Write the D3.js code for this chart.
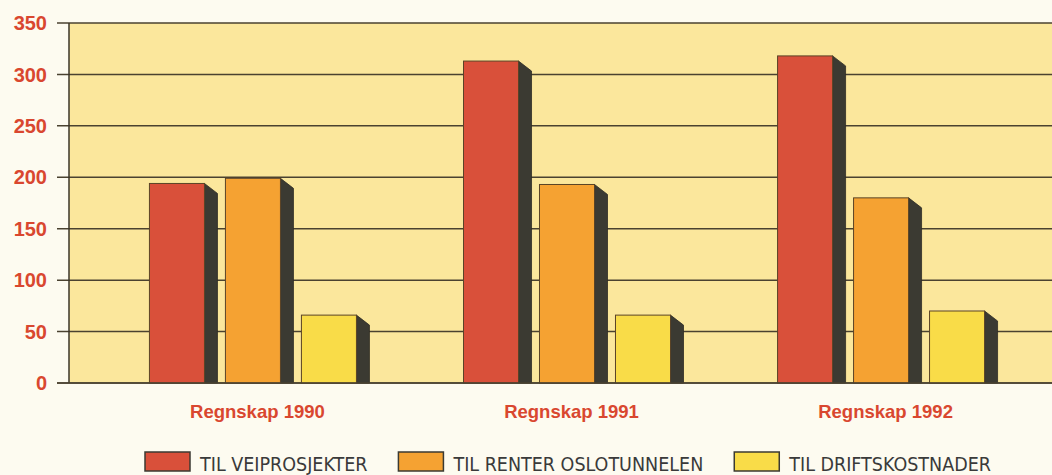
<!DOCTYPE html>
<html>
<head>
  <meta charset='utf-8'>
  <title>Regnskap 1990-1992</title>
  <style>
    html, body { margin: 0; padding: 0; background: #fdfbf0; }
    svg { display: block; }
  </style>
</head>
<body>
<svg id="chart"></svg>
<script src="https://cdn.jsdelivr.net/npm/d3@7"></script>
<script>
  // data
  var categories = ['Regnskap 1990', 'Regnskap 1991', 'Regnskap 1992'];
  var seriesNames = ['TIL VEIPROSJEKTER', 'TIL RENTER OSLOTUNNELEN', 'TIL DRIFTSKOSTNADER'];
  var veiprosjekter = [194, 313, 318];
  var renter = [199, 193, 180];
  var drift = [66, 66, 70];
  var yTicks = [0, 50, 100, 150, 200, 250, 300, 350];

  var seriesValues = [veiprosjekter, renter, drift];
  var colors = ['#d9503a', '#f5a232', '#f9dc48'];

  var width = 1052, height = 475;
  var margin = {top: 23, left: 69, bottom: 92};

  var svg = d3.select('#chart')
    .attr('width', width)
    .attr('height', height);

  // plot runs on past the right edge of the picture
  var x = d3.scaleBand()
    .domain(categories)
    .range([margin.left, 1074])
    .paddingOuter(0.1)
    .paddingInner(0);

  var x1 = d3.scaleBand()
    .domain(d3.range(seriesNames.length))
    .range([0, 207])
    .paddingInner(0.276);

  var y = d3.scaleLinear()
    .domain([0, 350])
    .range([height - margin.bottom, margin.top]);

  // plot background
  svg.append('rect')
    .attr('x', margin.left)
    .attr('y', y(350))
    .attr('width', width - margin.left)
    .attr('height', y(0) - y(350))
    .attr('fill', '#fbe79c');

  // gridlines + tick marks
  svg.append('g')
    .selectAll('line')
    .data(yTicks)
    .enter().append('line')
    .attr('x1', margin.left - 12)
    .attr('x2', width)
    .attr('y1', d => y(d))
    .attr('y2', d => y(d))
    .attr('stroke', '#4a4230')
    .attr('stroke-width', 1.5);

  // y labels
  svg.append('g')
    .selectAll('text')
    .data(yTicks)
    .enter().append('text')
    .attr('x', 47)
    .attr('y', d => y(d))
    .attr('dy', '0.36em')
    .attr('text-anchor', 'end')
    .attr('font-family', 'Liberation Sans, Arial, sans-serif')
    .attr('font-weight', 'bold')
    .attr('font-size', 20)
    .attr('fill', '#d9472f')
    .text(d => d);

  // y axis line
  svg.append('line')
    .attr('x1', margin.left).attr('x2', margin.left)
    .attr('y1', y(350)).attr('y2', y(0))
    .attr('stroke', '#3a3428')
    .attr('stroke-width', 1.5);

  // bars
  var depthX = 13, depthY = 10;
  var groups = svg.append('g')
    .selectAll('g')
    .data(categories)
    .enter().append('g')
    .attr('transform', d => 'translate(' + (x(d) + x.bandwidth() / 2 - 108) + ',0)');

  var bars = groups.selectAll('g.bar')
    .data((d, i) => seriesValues.map((s, k) => ({k: k, value: s[i]})))
    .enter().append('g')
    .attr('class', 'bar');

  bars.append('path')
    .attr('d', d => {
      var x0 = x1(d.k) + x1.bandwidth(), top = y(d.value), base = y(0);
      return 'M' + x0 + ',' + top + 'L' + (x0 + depthX) + ',' + (top + depthY) +
        'L' + (x0 + depthX) + ',' + base + 'L' + x0 + ',' + base + 'Z';
    })
    .attr('fill', '#3b3a32')
    .attr('stroke', '#2e2c25')
    .attr('stroke-width', 0.8);

  bars.append('rect')
    .attr('x', d => x1(d.k))
    .attr('y', d => y(d.value))
    .attr('width', x1.bandwidth())
    .attr('height', d => y(0) - y(d.value))
    .attr('fill', d => colors[d.k])
    .attr('stroke', '#5a4326')
    .attr('stroke-width', 1);

  // redraw baseline over the bars
  svg.append('line')
    .attr('x1', margin.left - 12).attr('x2', width)
    .attr('y1', y(0)).attr('y2', y(0))
    .attr('stroke', '#4a4230')
    .attr('stroke-width', 1.5);

  // category labels
  svg.append('g')
    .selectAll('text')
    .data(categories)
    .enter().append('text')
    .attr('x', d => x(d) + x.bandwidth() / 2)
    .attr('y', 418)
    .attr('text-anchor', 'middle')
    .attr('font-family', 'Liberation Sans, Arial, sans-serif')
    .attr('font-weight', 'bold')
    .attr('font-size', 18.5)
    .attr('fill', '#d9472f')
    .text(d => d);

  // legend
  var legend = svg.append('g');
  var items = legend.selectAll('g')
    .data(seriesNames)
    .enter().append('g');

  items.append('rect')
    .attr('width', 45)
    .attr('height', 19)
    .attr('y', 452)
    .attr('fill', (d, i) => colors[i])
    .attr('stroke', '#3b3a32')
    .attr('stroke-width', 1.5);

  items.append('text')
    .attr('x', 55)
    .attr('y', 471)
    .attr('font-family', 'Liberation Sans Narrow, DejaVu Sans Condensed, sans-serif')
    .attr('font-size', 19.5)
    .attr('fill', '#3a3a3a')
    .text(d => d);

  var pos = 145;
  items.each(function() {
    var g = d3.select(this);
    g.attr('transform', 'translate(' + pos + ',0)');
    pos += 55 + g.select('text').node().getComputedTextLength() + 31;
  });
</script>
</body>
</html>
